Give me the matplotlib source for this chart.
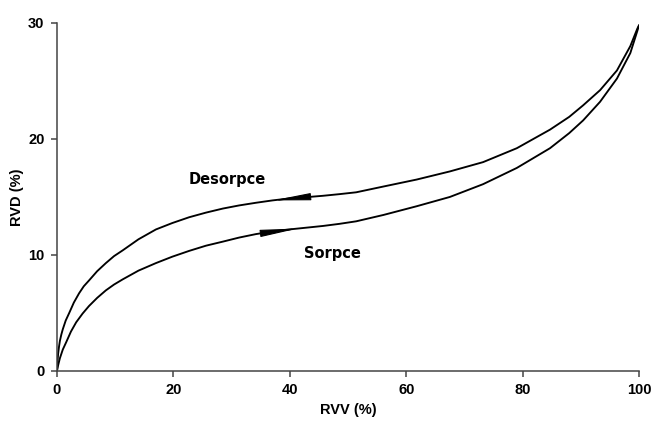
import matplotlib
matplotlib.use("Agg")
import matplotlib.pyplot as plt

# Desorption (upper curve)
des_x = [0, 0.1, 0.2, 0.35, 0.5, 0.75, 1.0, 1.5, 2.1, 2.9, 3.8, 4.6, 5.5, 6.9, 8.4, 9.8, 11.3,
         14.0, 17.0, 19.8, 22.7, 25.6, 28.5, 31.3, 34.2, 37.0, 39.9, 42.8, 45.7, 48.5,
         51.4, 56.1, 61.8, 67.5, 73.2, 79.0, 84.7, 88.0, 90.4, 93.3, 96.2, 98.5, 99.7, 100]
des_y = [0, 0.9, 1.5, 2.1, 2.6, 3.15, 3.6, 4.35, 5.0, 5.9, 6.7, 7.3, 7.8, 8.6, 9.3, 9.9, 10.4,
         11.35, 12.2, 12.75, 13.25, 13.65, 14.0, 14.27, 14.5, 14.7, 14.87, 14.98, 15.1,
         15.24, 15.4, 15.9, 16.5, 17.2, 18.0, 19.2, 20.8, 21.9, 22.9, 24.2, 25.9, 28.0,
         29.5, 29.8]

# Sorption (lower curve)
sor_x = [0, 0.2, 0.5, 1.0, 1.6, 2.4, 3.3, 4.4, 5.5, 6.9, 8.4, 9.8, 11.3, 14.0, 17.0, 19.8,
         22.7, 25.6, 28.5, 31.3, 34.2, 37.0, 39.9, 42.8, 45.7, 48.5, 51.4, 56.1, 61.8,
         67.5, 73.2, 79.0, 84.7, 88.0, 90.4, 93.3, 96.2, 98.5, 99.7, 100]
sor_y = [0, 0.5, 1.1, 1.85, 2.5, 3.4, 4.2, 4.95, 5.6, 6.3, 6.95, 7.45, 7.9, 8.65, 9.3,
         9.85, 10.35, 10.8, 11.15, 11.5, 11.8, 12.02, 12.2, 12.35, 12.5, 12.68, 12.9,
         13.45, 14.2, 15.0, 16.1, 17.5, 19.2, 20.5, 21.6, 23.2, 25.2, 27.4, 29.3, 29.8]

# Arrow heads (base -> tip) along the curves
des_arrow = [(43.1, 15.0), (37.1, 14.7)]
sor_arrow = [(35.6, 11.9), (41.4, 12.28)]

labels = [("Desorpce", 29.3, 16.5), ("Sorpce", 47.3, 10.1)]

x_ticks = [0, 20, 40, 60, 80, 100]
y_ticks = [0, 10, 20, 30]

fig = plt.figure(figsize=(6.58, 4.24), dpi=100)
ax = fig.add_axes([0.0866, 0.125, 0.8846, 0.821])

ax.plot(des_x, des_y, color="black", lw=1.35, solid_capstyle="round",
        solid_joinstyle="round")
ax.plot(sor_x, sor_y, color="black", lw=1.35, solid_capstyle="round",
        solid_joinstyle="round")

for base, tip in (des_arrow, sor_arrow):
    ax.annotate("", xy=tip, xytext=base,
                arrowprops=dict(arrowstyle="-|>,head_length=2.3,head_width=0.22",
                                color="black", lw=0.8, shrinkA=0, shrinkB=0))

for txt, tx, ty in labels:
    ax.text(tx, ty, txt, ha="center", va="center", fontsize=10.5,
            fontweight="bold", family="DejaVu Sans")

ax.set_xlim(0, 100)
ax.set_ylim(0, 30)
ax.set_xticks(x_ticks)
ax.set_yticks(y_ticks)
for s in ("top", "right"):
    ax.spines[s].set_visible(False)
for s in ("left", "bottom"):
    ax.spines[s].set_color("#444444")
    ax.spines[s].set_linewidth(1.1)
ax.tick_params(direction="out", length=4, width=1.1, color="#444444", pad=5,
               labelsize=10.5)
for lab in ax.get_xticklabels() + ax.get_yticklabels():
    lab.set_fontweight("bold")
    lab.set_family("Liberation Sans")

ax.set_xlabel("RVV (%)", fontsize=10.5, fontweight="bold", family="Liberation Sans",
              labelpad=4)
ax.set_ylabel("RVD (%)", fontsize=10.5, fontweight="bold", family="Liberation Sans",
              labelpad=3)

fig.savefig("out.png", dpi=100)
